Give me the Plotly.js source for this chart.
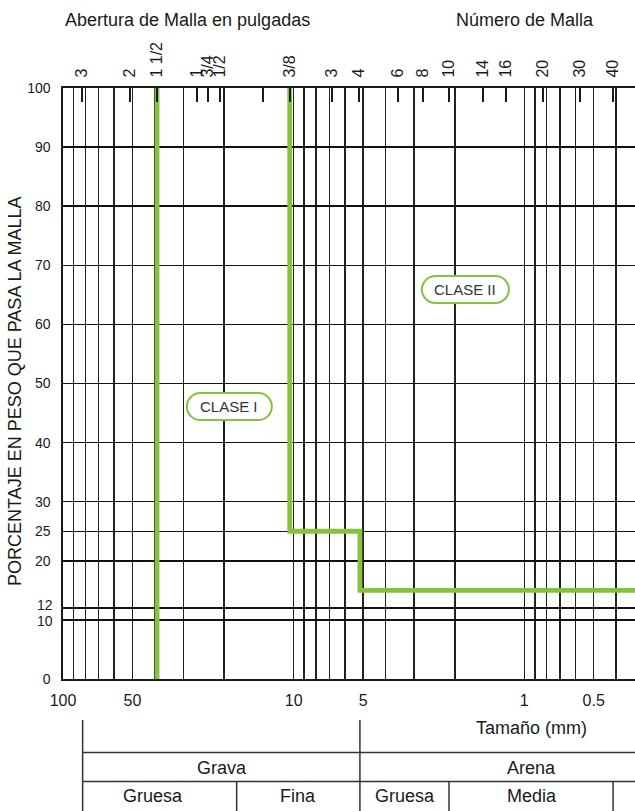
<!DOCTYPE html>
<html><head><meta charset="utf-8">
<script src="https://cdn.plot.ly/plotly-3.0.1.min.js"></script>
<style>html,body{margin:0;padding:0;background:#fff}#chart{width:635px;height:811px}</style>
</head><body><div id="chart"></div>
<script>
// ---- data (sizes in mm) ----
const gridSizes = [100,90,80,70,60,50,40,30,20,10,9,8,7,6,5,4,3,2,1,0.9,0.8,0.7,0.6,0.5,0.4];
const sizeTickLabels = {100:'100',50:'50',10:'10',5:'5',1:'1',0.5:'0.5'};
const sieveSizes  = [82.7,51.2,39.1,26.2,23.5,20.9,13.6,10.4,6.82,5.21,3.53,2.75,2.12,1.51,1.20,0.83,0.573,0.412];
const sieveLabels = ['3','2','1 1/2','1','3/4','1/2','','3/8','3','4','6','8','10','14','16','20','30','40'];
const percentTicks = [0,10,12,20,25,30,40,50,60,70,80,90,100];
const closeTicks = [12, 10];          // labelled separately, nudged apart
const closeTickShift = [3, -1];
const clase1Size = [39.1, 39.1];
const clase1Pct  = [0, 100];
const clase2Size = [10.4, 10.4, 5.16, 5.16, 0.3];
const clase2Pct  = [100, 25, 25, 15, 15];
const classNames = ['CLASE I','CLASE II'];
const classLabelSize = [19.0, 1.80];
const classLabelPct  = [46.1, 65.9];
// soil classification table
const mainBands = ['Grava','Arena'];
const mainBandCenter = [20.4, 0.93];
const subBands = ['Gruesa','Fina','Gruesa','Media'];
const subBandCenter = [40.9, 9.6, 3.3, 0.93];
const tableStart = 82.2;       // left edge of table
const gravelSand = 5.16;       // grava / arena boundary
const subEdges = [17.66, 2.12, 0.412];

// ---- helpers ----
const R0 = 2, R1 = -0.48;
const PW = 572, PH = 591;
const GREEN = '#86c240', INK = '#1a1a1a';
function px(v){ return (Math.log10(v) - R0) / (R1 - R0); }
function pill(cx, cy, w, h){
  const r = h/2, k = 0.5523*r;
  const X = d => (cx + d/PW).toFixed(5);
  const Y = d => (cy + d/PH).toFixed(5);
  const a = w/2 - r;
  return `M${X(-a)},${Y(r)} L${X(a)},${Y(r)} C${X(a+k)},${Y(r)} ${X(w/2)},${Y(k)} ${X(w/2)},${Y(0)} `+
         `C${X(w/2)},${Y(-k)} ${X(a+k)},${Y(-r)} ${X(a)},${Y(-r)} L${X(-a)},${Y(-r)} `+
         `C${X(-a-k)},${Y(-r)} ${X(-w/2)},${Y(-k)} ${X(-w/2)},${Y(0)} `+
         `C${X(-w/2)},${Y(k)} ${X(-a-k)},${Y(r)} ${X(-a)},${Y(r)} Z`;
}

const traces = [
  {x: clase1Size, y: clase1Pct, mode:'lines', line:{color:GREEN, width:4.8}, hoverinfo:'skip'},
  {x: clase2Size, y: clase2Pct, mode:'lines', line:{color:GREEN, width:4.8}, hoverinfo:'skip'},
  {x: sieveSizes, y: sieveSizes.map(()=>100), xaxis:'x2', mode:'markers', marker:{opacity:0}, hoverinfo:'skip'}
];

const yT = -0.0694, yR1 = -0.1244, yR2 = -0.1734, yB = -0.2240;
const lineStyle = {color:'#333', width:1.5};
const shapes = [
  {type:'line', xref:'paper', yref:'paper', x0:px(tableStart), x1:px(tableStart), y0:yT, y1:yB, line:lineStyle},
  {type:'line', xref:'paper', yref:'paper', x0:px(gravelSand), x1:px(gravelSand), y0:yT, y1:yB, line:lineStyle},
  {type:'line', xref:'paper', yref:'paper', x0:px(tableStart), x1:1.02, y0:yR1, y1:yR1, line:lineStyle},
  {type:'line', xref:'paper', yref:'paper', x0:px(tableStart), x1:1.02, y0:yR2, y1:yR2, line:lineStyle}
];
subEdges.forEach(v => shapes.push({type:'line', xref:'paper', yref:'paper', x0:px(v), x1:px(v), y0:yR2, y1:yB, line:lineStyle}));
const pillW = [85, 87];
classNames.forEach((n,i) => shapes.push({type:'path', xref:'paper', yref:'paper', layer:'above',
  path: pill(px(classLabelSize[i]), classLabelPct[i]/100, pillW[i], 27),
  line:{color:GREEN, width:2}, fillcolor:'#ffffff'}));

const annotations = [];
classNames.forEach((n,i) => annotations.push({xref:'paper', yref:'paper', x:px(classLabelSize[i]), y:classLabelPct[i]/100,
  text:n, showarrow:false, xanchor:'center', yanchor:'middle', font:{size:15, color:'#333'}}));
closeTicks.forEach((v,i) => annotations.push({xref:'paper', yref:'y', x:0, y:v, xshift:-8, yshift:closeTickShift[i],
  xanchor:'right', yanchor:'middle', showarrow:false, text:String(v), font:{size:14}}));
annotations.push({xref:'paper', yref:'paper', x:0, y:1.115, xanchor:'left', yanchor:'middle', showarrow:false,
  text:'Abertura de Malla en pulgadas', font:{size:18}});
annotations.push({xref:'paper', yref:'paper', x:0.6836, y:1.115, xanchor:'left', yanchor:'middle', showarrow:false,
  text:'Número de Malla', font:{size:18}});
annotations.push({xref:'paper', yref:'paper', x:-0.0839, y:0.4856, xanchor:'center', yanchor:'middle', showarrow:false,
  textangle:-90, text:'PORCENTAJE EN PESO QUE PASA LA MALLA', font:{size:18}});
annotations.push({xref:'paper', yref:'paper', x:px(0.93), y:-0.0829, xanchor:'center', yanchor:'middle', showarrow:false,
  text:'Tamaño (mm)', font:{size:18}});
mainBands.forEach((n,i) => annotations.push({xref:'paper', yref:'paper', x:px(mainBandCenter[i]), y:-0.1506,
  xanchor:'center', yanchor:'middle', showarrow:false, text:n, font:{size:18}}));
subBands.forEach((n,i) => annotations.push({xref:'paper', yref:'paper', x:px(subBandCenter[i]), y:-0.1985,
  xanchor:'center', yanchor:'middle', showarrow:false, text:n, font:{size:18}}));

const layout = {
  width:635, height:811, margin:{l:63, r:0, t:88, b:132, pad:0},
  paper_bgcolor:'#fff', plot_bgcolor:'#fff', showlegend:false,
  font:{family:'"Liberation Sans", Arial, Helvetica, sans-serif', color:INK, size:16},
  xaxis:{type:'log', range:[R0,R1], tickmode:'array', tickvals:gridSizes,
    ticktext:gridSizes.map(v => sizeTickLabels[v] || ''), ticks:'', showgrid:true,
    gridcolor:'#222', gridwidth:1.5, showline:true, linecolor:INK, linewidth:1.6,
    zeroline:false, tickfont:{size:16}, ticklabelstandoff:6, fixedrange:true},
  xaxis2:{type:'log', range:[R0,R1], overlaying:'x', side:'top', anchor:'y', tickmode:'array',
    tickvals:sieveSizes, ticktext:sieveLabels, tickangle:-90, ticks:'inside', ticklen:14,
    tickwidth:1.6, tickcolor:INK, showgrid:false, showline:true, linecolor:INK, linewidth:2.2,
    zeroline:false, tickfont:{size:16}, ticklabelstandoff:5, fixedrange:true},
  yaxis:{range:[0,100], tickmode:'array', tickvals:percentTicks,
    ticktext:percentTicks.map(v => closeTicks.includes(v) ? '' : String(v)), ticks:'', showgrid:true,
    gridcolor:'#111', gridwidth:1.5, showline:true, linecolor:INK, linewidth:1.6, zeroline:false,
    tickfont:{size:14}, ticklabelstandoff:8, fixedrange:true},
  shapes: shapes, annotations: annotations
};
Plotly.newPlot('chart', traces, layout, {staticPlot:true, displayModeBar:false});
</script></body></html>
